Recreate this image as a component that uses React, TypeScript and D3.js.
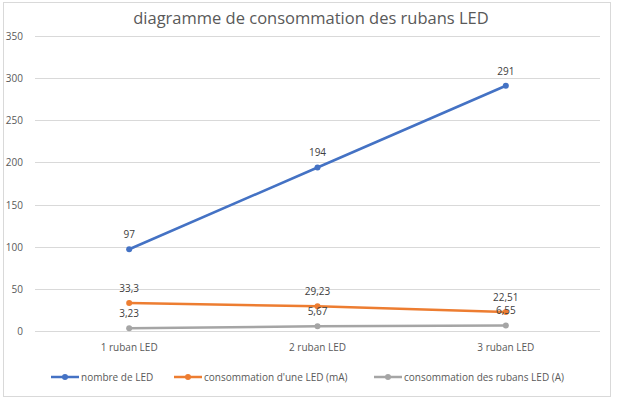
import React, { useRef, useEffect } from 'react';
import * as d3 from 'd3';

const categories = ['1 ruban LED', '2 ruban LED', '3 ruban LED'];
const nombreLed = [97, 194, 291];
const consoUneLed = [33.3, 29.23, 22.51];
const consoRubans = [3.23, 5.67, 6.55];
const seriesNames = ['nombre de LED', "consommation d'une LED (mA)", 'consommation des rubans LED (A)'];
const seriesColors = ['#4472C4', '#ED7D31', '#A5A5A5'];
const yTicks = [0, 50, 100, 150, 200, 250, 300, 350];

const fmt = (v: number) => String(v).replace('.', ',');

const App = () => {
  const svgRef = useRef<SVGSVGElement>(null);
  const width = 618;
  const height = 399;

  useEffect(() => {
    const svg = d3.select(svgRef.current);
    svg.selectAll('*').remove();
    const font = 'Open Sans, Noto Sans, sans-serif';

    svg.append('rect')
      .attr('x', 3.5).attr('y', 2.5)
      .attr('width', 607).attr('height', 394)
      .attr('fill', '#fff').attr('stroke', '#d9d9d9');

    svg.append('text')
      .attr('x', 311).attr('y', 24)
      .attr('text-anchor', 'middle')
      .attr('font-family', font)
      .attr('font-size', 16.5)
      .attr('fill', '#595959')
      .text('diagramme de consommation des rubans LED');

    const x = d3.scaleBand().domain(categories).range([35, 600]);
    const y = d3.scaleLinear().domain([0, 350]).range([331, 36]);

    const grid = svg.append('g');
    yTicks.forEach(t => {
      grid.append('line')
        .attr('x1', 35).attr('x2', 600)
        .attr('y1', Math.round(y(t)) + 0.5).attr('y2', Math.round(y(t)) + 0.5)
        .attr('stroke', '#d9d9d9');
      grid.append('text')
        .attr('x', 23).attr('y', y(t) + 4)
        .attr('text-anchor', 'end')
        .attr('font-family', font).attr('font-size', 10)
        .attr('fill', '#595959')
        .text(t);
    });

    categories.forEach(c => {
      svg.append('text')
        .attr('x', x(c)! + x.bandwidth() / 2).attr('y', 351)
        .attr('text-anchor', 'middle')
        .attr('font-family', font).attr('font-size', 10)
        .attr('fill', '#595959')
        .text(c);
    });

    const allSeries = [nombreLed, consoUneLed, consoRubans];
    const cx = (i: number) => x(categories[i])! + x.bandwidth() / 2;
    const line = d3.line<number>().x((d, i) => cx(i)).y(d => y(d));

    allSeries.forEach((values, s) => {
      const g = svg.append('g');
      g.append('path')
        .attr('d', line(values))
        .attr('fill', 'none')
        .attr('stroke', seriesColors[s])
        .attr('stroke-width', 2.5)
        .attr('stroke-linecap', 'round');
      g.selectAll('circle').data(values).enter().append('circle')
        .attr('cx', (d, i) => cx(i)).attr('cy', d => y(d))
        .attr('r', 3).attr('fill', seriesColors[s]);
    });

    allSeries.forEach(values => {
      svg.append('g').selectAll('text').data(values).enter().append('text')
        .attr('x', (d, i) => cx(i)).attr('y', d => y(d) - 11)
        .attr('text-anchor', 'middle')
        .attr('font-family', font).attr('font-size', 10)
        .attr('fill', '#404040')
        .text(d => fmt(d));
    });

    const legendX = [51, 174, 374];
    seriesNames.forEach((name, s) => {
      const lg = svg.append('g').attr('transform', `translate(${legendX[s]},377)`);
      lg.append('line')
        .attr('x1', 0).attr('x2', 28).attr('y1', 0).attr('y2', 0)
        .attr('stroke', seriesColors[s]).attr('stroke-width', 2.5);
      lg.append('circle').attr('cx', 14).attr('cy', 0).attr('r', 3).attr('fill', seriesColors[s]);
      lg.append('text')
        .attr('x', 30).attr('y', 3.5)
        .attr('font-family', font).attr('font-size', 10)
        .attr('fill', '#595959')
        .text(name);
    });
  }, []);

  return (
    <svg ref={svgRef} width={width} height={height}
      style={{ position: 'absolute', left: 0, top: 0, display: 'block' }} />
  );
};

export default App;
